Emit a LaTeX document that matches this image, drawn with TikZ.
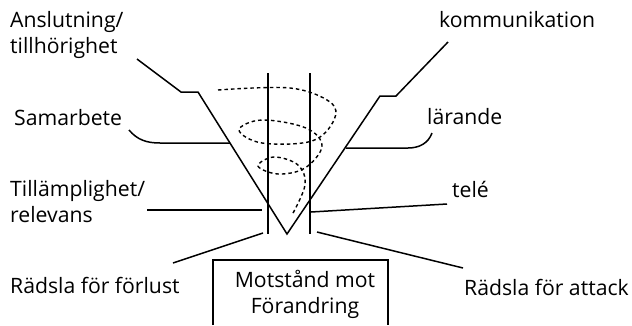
\documentclass[tikz,border=0pt]{standalone}
\usepackage{fontspec}
\setmainfont{Open Sans}
\begin{document}
\begin{tikzpicture}[x=1pt, y=-1pt, font=\fontsize{21.2}{25.5}\selectfont]

	% Styles
	\tikzset{
		label/.style={
			anchor=base west, inner sep=0pt,
			align=left,
		},
		funnel/.style={
			line width=1.5pt, line join=miter,
		},
		spiral/.style={
			line width=1.4pt, dash pattern=on 3.5pt off 3pt,
		},
		frame/.style={
			line width=1.5pt,
		}
	}

	\useasboundingbox (0,0) rectangle (632,325);

	% Labels left (base = last line)
	\node[label] (anslutning) at (10,53) {Anslutning/\\tillhörighet};
	\node[label] (samarbete) at (14,125) {Samarbete};
	\node[label] (tillamplighet) at (10,222) {Tillämplighet/\\relevans};
	\node[label] (forlust) at (10,293) {Rädsla för förlust};

	% Labels right
	\node[label] (kommunikation) at (439,27) {kommunikation};
	\node[label] (larande) at (427,124) {lärande};
	\node[label] (tele) at (452,197) {telé};
	\node[label] (attack) at (464,295) {Rädsla för attack};

	% Box at the bottom (open below)
	\node[align=center, anchor=base, inner sep=0pt] (motstand) at (305,313) {Motstånd mot\\Förandring};
	\coordinate (boxbl) at (213,325);
	\coordinate (boxtl) at (213,260);
	\coordinate (boxtr) at (388,260);
	\coordinate (boxbr) at (388,325);
	\draw[frame] (boxbl) -- (boxtl) -- (boxtr) -- (boxbr);

	% Funnel points
	\coordinate (apex) at (287,234);
	\coordinate (lefttop) at (137,59);
	\coordinate (leftstep) at (181,92);
	\coordinate (leftrim) at (198,92);
	\coordinate (righttop) at (448,42);
	\coordinate (rightstep) at (396,96);
	\coordinate (rightrim) at (380,96);

	% Funnel outline
	\draw[funnel] (lefttop) -- (leftstep) -- (leftrim) -- (apex)
		-- (rightrim) -- (rightstep) -- (righttop);

	% Vertical pipe
	\coordinate (pipelt) at (268,73);
	\coordinate (pipelb) at (268,234);
	\coordinate (pipert) at (310,73);
	\coordinate (piperb) at (310,234);
	\draw[frame] (pipelt) -- (pipelb);
	\draw[frame] (pipert) -- (piperb);

	% Spiral
	\draw[spiral] plot[smooth, tension=0.6] coordinates {
		(218,90) (290,88) (330,102) (334,120) (312,141) (262,143) (239,130)
		(262,120) (306,128) (322,146) (305,168) (278,174) (258,166)
		(274,157) (298,165) (305,185) (292,215)
	};

	% Connectors left
	\coordinate (samarbeteend) at (129,130);
	\coordinate (samarbetemid) at (160,143);
	\coordinate (samarbetecone) at (230,143);
	\draw[frame] (samarbeteend) to[out=-50, in=180] (samarbetemid) -- (samarbetecone);

	\coordinate (tillend) at (147,210);
	\coordinate (tillpipe) at (262,210);
	\draw[frame] (tillend) -- (tillpipe);

	\coordinate (forlustend) at (173,263);
	\coordinate (forlustpipe) at (263,233);
	\draw[frame] (forlustend) -- (forlustpipe);

	% Connectors right
	\coordinate (larandecone) at (346,148);
	\coordinate (larandemid) at (408,148);
	\coordinate (larandeend) at (432,133);
	\draw[frame] (larandecone) -- (larandemid) to[out=0, in=-110] (larandeend);

	\coordinate (telepipe) at (311,212);
	\coordinate (teleend) at (447,204);
	\draw[frame] (telepipe) -- (teleend);

	\coordinate (attackpipe) at (317,232);
	\coordinate (attackend) at (463,268);
	\draw[frame] (attackpipe) -- (attackend);

\end{tikzpicture}
\end{document}
